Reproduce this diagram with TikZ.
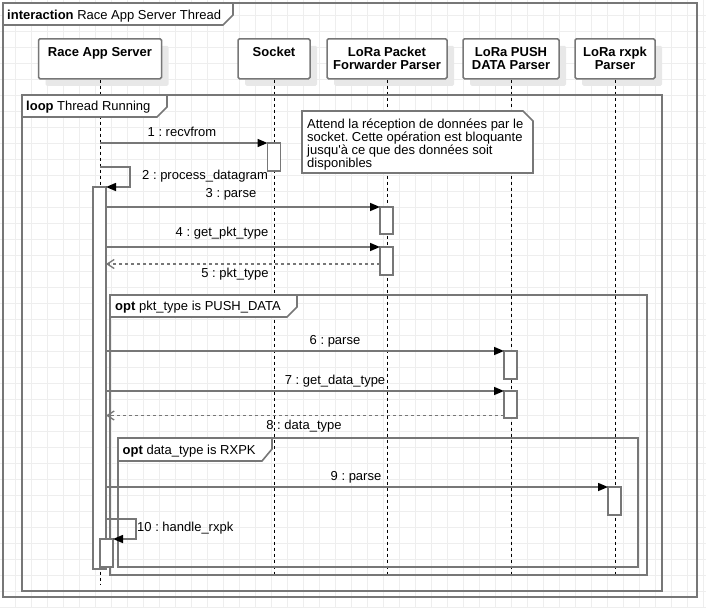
\documentclass[tikz,border=0pt]{standalone}
\usepackage{fontspec}
\setmainfont{Liberation Sans}
\usetikzlibrary{arrows.meta, positioning, calc, shadows}
\frenchspacing

\definecolor{linegray}{HTML}{777777}
\definecolor{gridgray}{HTML}{EEEEEE}

\begin{document}
\begin{tikzpicture}[x=1pt, y=-1pt,
  every node/.style={font=\fontsize{13}{13}\selectfont},
  head/.style={draw=linegray, line width=1.5pt, fill=white, rounded corners=1.5pt,
    anchor=north, minimum height=40pt, align=center,
    font=\fontsize{13}{13}\selectfont\bfseries,
    drop shadow={fill=black!9, opacity=1, shadow xshift=7pt, shadow yshift=-7pt}},
  lifeline/.style={dashed, line width=1pt},
  actbar/.style={draw=linegray, line width=1.5pt, fill=white, anchor=north,
    minimum width=13pt, inner sep=0pt, outer sep=0pt},
  frame/.style={draw=linegray, line width=1.6pt},
  gridline/.style={draw=gridgray, line width=1pt},
  call/.style={draw=linegray, line width=1.5pt, -{Triangle[length=10pt, width=8pt, color=black]}},
  ret/.style={draw=linegray, line width=1.3pt, dashed, -{Straight Barb[length=7pt, width=9pt]}},
  msglbl/.style={inner sep=0pt, text height=9.5pt, text depth=2.5pt},
  framelbl/.style={anchor=west, inner sep=0pt, text height=9.5pt, text depth=2.5pt}]

% Background grid
\fill[white] (0,0) rectangle (706,608);
\useasboundingbox (0,0) rectangle (706,608);
\foreach \g in {15,31,...,703} {\draw[gridline] (\g,0) -- (\g,608);}
\foreach \g in {15,31,...,607} {\draw[gridline] (0,\g) -- (706,\g);}

% Lifeline heads
\node[head, minimum width=123pt] (srv) at (100,38) {Race App Server\\\phantom{X}};
\node[head, minimum width=72pt, right=75pt of srv] (sock) {Socket\\\phantom{X}};
\node[head, minimum width=120pt, right=15.5pt of sock] (pfp) {LoRa Packet\\Forwarder Parser};
\node[head, minimum width=96pt, right=14.5pt of pfp] (push) {LoRa PUSH\\DATA Parser};
\node[head, minimum width=80pt, right=14.5pt of push] (rxpk) {LoRa rxpk\\Parser};

% Lifelines
\coordinate (bottom) at (0,575);
\coordinate (srvBottom) at (0,584);
\draw[lifeline] (srv.south) -- (srv.south |- srvBottom);
\draw[lifeline] (sock.south) -- (sock.south |- bottom);
\draw[lifeline] (pfp.south) -- (pfp.south |- bottom);
\draw[lifeline] (push.south) -- (push.south |- bottom);
\draw[lifeline] (rxpk.south) -- (rxpk.south |- bottom);

% Frames
\draw[frame] (3,3) rectangle (697,597);
\draw[frame, fill=white] (3,3) -- (233,3) -- (233,15) -- (223,25) -- (3,25) -- cycle;
\node[framelbl] (frameLbl) at (7,15.5) {\textbf{interaction} Race App Server Thread};

\draw[frame] (22,95) rectangle (662,591);
\draw[frame, fill=white] (22,95) -- (167,95) -- (167,107) -- (157,117) -- (22,117) -- cycle;
\node[framelbl] (loopLbl) at (26,106.5) {\textbf{loop} Thread Running};

\draw[frame] (110,295) rectangle (647,575);
\draw[frame, fill=white] (110,295) -- (297,295) -- (297,307) -- (287,317) -- (110,317) -- cycle;
\node[framelbl] (optOneLbl) at (115,306.5) {\textbf{opt} pkt\_type is PUSH\_DATA};

\draw[frame] (118,438) rectangle (638,567);
\draw[frame, fill=white] (118,438) -- (272,438) -- (272,449) -- (262,461) -- (118,461) -- cycle;
\node[framelbl] (optTwoLbl) at (122.5,450.5) {\textbf{opt} data\_type is RXPK};

% Note
\draw[frame, fill=white] (302,111) -- (523,111) -- (533,121) -- (533,173) -- (302,173) -- cycle;
\node[anchor=north west, inner sep=0pt, align=left] (note) at (307,119)
  {Attend la réception de données par le\\socket. Cette opération est bloquante\\jusqu\textquotesingle à ce que des données soit\\disponibles};

% Activation bars
\node[actbar, minimum height=28pt] (sock1) at (274,143) {};
\node[actbar, minimum height=382pt] (srvA) at (99.5,187) {};
\node[actbar, minimum height=27pt] (pf1) at (386.5,207) {};
\node[actbar, minimum height=28pt] (pf2) at (386.5,247) {};
\node[actbar, minimum height=28pt] (push1) at (510.5,351) {};
\node[actbar, minimum height=27pt] (push2) at (510.5,391) {};
\node[actbar, minimum height=28pt] (rx1) at (614.5,487) {};
\node[actbar, minimum height=28pt] (srvB) at (106.5,539) {};

% Messages
\coordinate (m1) at (100,143);
\draw[call] (m1) -- (sock1.north west);
\coordinate (m2) at (100,167);
\draw[call] (m2) -- ++(30,0) |- (srvA.north east);
\draw[call] (srvA.east |- pf1.north west) -- (pf1.north west);
\draw[call] (srvA.east |- pf2.north west) -- (pf2.north west);
\coordinate (r5) at ([yshift=11pt]pf2.south west);
\draw[ret] (r5) -- (srvA.east |- r5);
\draw[call] (srvA.east |- push1.north west) -- (push1.north west);
\draw[call] (srvA.east |- push2.north west) -- (push2.north west);
\coordinate (r8) at ([yshift=2.5pt]push2.south west);
\draw[ret] (r8) -- (srvA.east |- r8);
\draw[call] (srvA.east |- rx1.north west) -- (rx1.north west);
\coordinate (m10) at (106,519);
\draw[call] (m10) -- ++(30,0) |- (srvB.north east);

% Message labels
\node[msglbl] (l1) at (182,133) {1 : recvfrom};
\node[msglbl, anchor=west] (l2) at (142,176) {2 : process\_datagram};
\node[msglbl] (l3) at (231,194) {3 : parse};
\node[msglbl] (l4) at (222,233) {4 : get\_pkt\_type};
\node[msglbl] (l5) at (235,274) {5 : pkt\_type};
\node[msglbl] (l6) at (335,341) {6 : parse};
\node[msglbl] (l7) at (335,381) {7 : get\_data\_type};
\node[msglbl] (l8) at (304,426) {8 : data\_type};
\node[msglbl] (l9) at (356,477) {9 : parse};
\node[msglbl, anchor=west] (l10) at (137,528) {10 : handle\_rxpk};
\end{tikzpicture}
\end{document}
